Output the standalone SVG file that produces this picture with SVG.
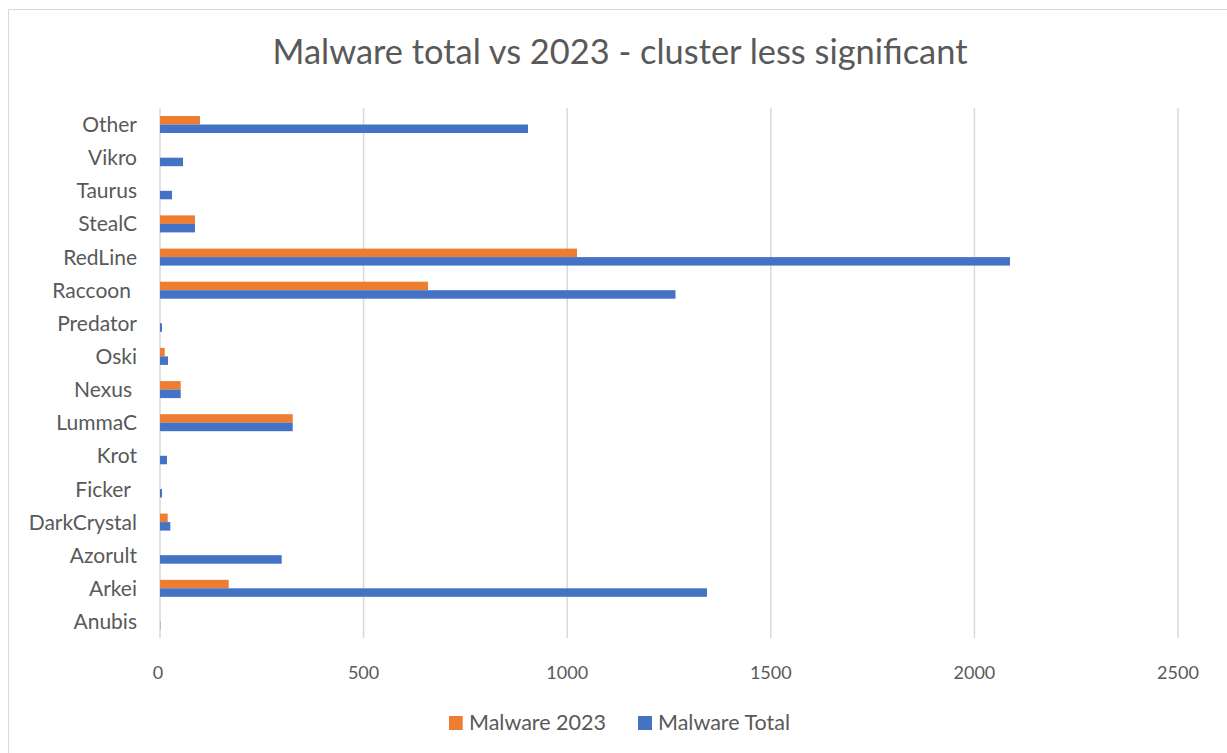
<svg xmlns="http://www.w3.org/2000/svg" width="1227" height="753" viewBox="0 0 1227 753">
<style>
.t{font-family:Lato,"Liberation Sans",sans-serif;fill:#595959}
.cat{font-size:21px;text-anchor:end}
.tick{font-size:18px;text-anchor:middle}
.grid{stroke:#D9D9D9;stroke-width:1.5}
.o{fill:#ED7D31}
.b{fill:#4472C4}
</style>
<rect x="0" y="0" width="1227" height="753" fill="#fff"/>
<rect x="8.5" y="9.5" width="1240" height="760" fill="none" stroke="#D9D9D9" stroke-width="1"/>
<text class="t" x="620" y="64" font-size="34.4" text-anchor="middle">Malware total vs 2023 - cluster less significant</text>
<g id="gridlines">
<line class="grid" x1="160" y1="108" x2="160" y2="638"/>
<line class="grid" x1="363.6" y1="108" x2="363.6" y2="638"/>
<line class="grid" x1="567.2" y1="108" x2="567.2" y2="638"/>
<line class="grid" x1="770.8" y1="108" x2="770.8" y2="638"/>
<line class="grid" x1="974.4" y1="108" x2="974.4" y2="638"/>
<line class="grid" x1="1178" y1="108" x2="1178" y2="638"/>
</g>
<g id="bars">
<rect class="o" x="160" y="116" width="40" height="8.5"/><rect class="b" x="160" y="124.5" width="368" height="8.5"/>
<rect class="b" x="160" y="157.7" width="23" height="8.5"/>
<rect class="b" x="160" y="190.8" width="12" height="8.5"/>
<rect class="o" x="160" y="215.4" width="35" height="8.5"/><rect class="b" x="160" y="223.9" width="35" height="8.5"/>
<rect class="o" x="160" y="248.6" width="417" height="8.5"/><rect class="b" x="160" y="257.1" width="850" height="8.5"/>
<rect class="o" x="160" y="281.7" width="268" height="8.5"/><rect class="b" x="160" y="290.2" width="515.5" height="8.5"/>
<rect class="b" x="160" y="323.3" width="2" height="8.5"/>
<rect class="o" x="160" y="347.9" width="4.7" height="8.5"/><rect class="b" x="160" y="356.4" width="8" height="8.5"/>
<rect class="o" x="160" y="381.1" width="20.7" height="8.5"/><rect class="b" x="160" y="389.6" width="20.7" height="8.5"/>
<rect class="o" x="160" y="414.2" width="132.7" height="8.5"/><rect class="b" x="160" y="422.7" width="132.7" height="8.5"/>
<rect class="b" x="160" y="455.8" width="7" height="8.5"/>
<rect class="b" x="160" y="489" width="2" height="8.5"/>
<rect class="o" x="160" y="513.6" width="7.7" height="8.5"/><rect class="b" x="160" y="522.1" width="10.3" height="8.5"/>
<rect class="b" x="160" y="555.2" width="121.7" height="8.5"/>
<rect class="o" x="160" y="579.8" width="68.7" height="8.5"/><rect class="b" x="160" y="588.3" width="547" height="8.5"/>
<rect class="b" x="160" y="621.4" width="0.6" height="8.5" opacity="0.5"/>
</g>
<g id="categories">
<text class="t cat" x="137" y="132">Other</text>
<text class="t cat" x="137" y="165">Vikro</text>
<text class="t cat" x="137" y="198">Taurus</text>
<text class="t cat" x="137" y="231">StealC</text>
<text class="t cat" x="137" y="265">RedLine</text>
<text class="t cat" x="131" y="298">Raccoon</text>
<text class="t cat" x="137" y="331">Predator</text>
<text class="t cat" x="137" y="364">Oski</text>
<text class="t cat" x="132" y="397">Nexus</text>
<text class="t cat" x="137" y="430">LummaC</text>
<text class="t cat" x="137" y="463">Krot</text>
<text class="t cat" x="131" y="497">Ficker</text>
<text class="t cat" x="137" y="530">DarkCrystal</text>
<text class="t cat" x="137" y="563">Azorult</text>
<text class="t cat" x="137" y="596">Arkei</text>
<text class="t cat" x="137" y="629">Anubis</text>
</g>
<g id="ticks">
<text class="t tick" x="158" y="679">0</text>
<text class="t tick" x="363.6" y="679">500</text>
<text class="t tick" x="567.2" y="679">1000</text>
<text class="t tick" x="770.8" y="679">1500</text>
<text class="t tick" x="974.4" y="679">2000</text>
<text class="t tick" x="1178" y="679">2500</text>
</g>
<g id="legend">
<rect class="o" x="449" y="716" width="13.7" height="14"/>
<text class="t" x="469" y="730" font-size="21.5">Malware 2023</text>
<rect class="b" x="638" y="716" width="14" height="14"/>
<text class="t" x="658" y="730" font-size="21.5">Malware Total</text>
</g>
</svg>
